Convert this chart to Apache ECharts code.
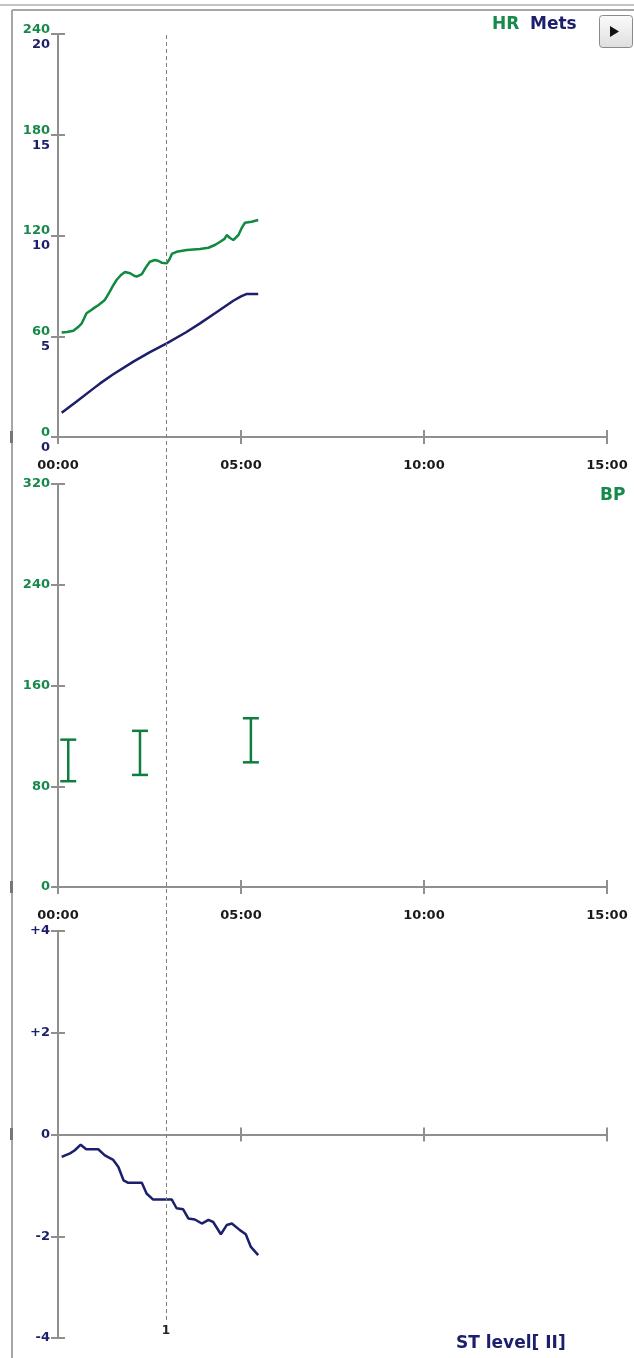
<!DOCTYPE html>
<html>
<head>
<meta charset="utf-8">
<script src="https://cdn.jsdelivr.net/npm/echarts@6/dist/echarts.min.js"></script>
<style>
html, body { margin: 0; padding: 0; background: #fff; }
#main { width: 634px; height: 1358px; }
</style>
</head>
<body>
<div id="main"></div>
<script>
// time in minutes
var hrTime = [0.10, 0.25, 0.42, 0.55, 0.65, 0.78, 0.90, 0.97, 1.10, 1.28, 1.40, 1.50, 1.60, 1.72, 1.83, 1.97, 2.08, 2.15, 2.29, 2.40, 2.51, 2.65, 2.75, 2.83, 2.97, 3.05, 3.11, 3.24, 3.52, 3.88, 4.11, 4.30, 4.43, 4.55, 4.61, 4.70, 4.79, 4.93, 5.02, 5.11, 5.29, 5.47];
var hrValue = [62.3, 62.5, 63.3, 65.5, 67.7, 73.7, 75.5, 76.6, 78.5, 81.6, 86, 90, 93.5, 96.5, 98.3, 97.5, 96, 95.5, 97, 101, 104.4, 105.4, 104.8, 103.8, 103.4, 106, 109, 110.3, 111.4, 112, 112.7, 114.5, 116.3, 118, 120.3, 118.5, 117.3, 120.3, 124.5, 127.6, 128.2, 129.2];
var metsTime = [0.10, 0.50, 1.00, 1.15, 1.50, 2.06, 2.50, 2.97, 3.50, 3.88, 4.30, 4.79, 5.00, 5.16, 5.47];
var metsValue = [1.2, 1.75, 2.45, 2.66, 3.1, 3.74, 4.2, 4.65, 5.2, 5.64, 6.15, 6.76, 6.98, 7.1, 7.1];
var bpTime = [0.28, 2.24, 5.27];
var bpSys = [117, 124, 134];
var bpDia = [84, 89, 99];
var stTime = [0.10, 0.33, 0.46, 0.62, 0.77, 1.10, 1.28, 1.51, 1.65, 1.79, 1.92, 2.29, 2.42, 2.60, 3.11, 3.24, 3.42, 3.56, 3.74, 3.93, 4.11, 4.24, 4.45, 4.61, 4.75, 4.97, 5.13, 5.27, 5.47];
var stValue = [-0.44, -0.37, -0.31, -0.2, -0.29, -0.29, -0.41, -0.5, -0.64, -0.9, -0.95, -0.95, -1.16, -1.28, -1.28, -1.45, -1.47, -1.65, -1.67, -1.75, -1.68, -1.72, -1.96, -1.78, -1.75, -1.88, -1.96, -2.21, -2.37];
var markerTime = 2.95;
var markerLabel = '1';
var xTicks = { min: 0, max: 15, interval: 5 };

var green = '#17894a';
var navy = '#1c1f6b';
var axisColor = '#8f8f8f';
var font = 'DejaVu Sans';

function pairs(xs, ys) {
	var out = [];
	for(var i = 0; i < xs.length; i++) {
		out.push([xs[i], ys[i]]);
	}
	return out;
}

function timeLabel(v) {
	var m = Math.round(v);
	return (m < 10 ? '0' : '') + m + ':00';
}

// x axis pair per grid: outside ticks + inside ticks so they cross the line
function xAxisPair(grid, showLabel) {
	return [{
		type: 'value', gridIndex: grid, min: xTicks.min, max: xTicks.max, interval: xTicks.interval,
		axisLine: { show: true, lineStyle: { color: axisColor, width: 2 } },
		axisTick: { show: true, length: 7, lineStyle: { color: axisColor, width: 2 } },
		axisLabel: { show: showLabel, margin: 22, formatter: timeLabel, color: '#1a1a1a', fontFamily: font, fontWeight: 'bold', fontSize: 13 },
		splitLine: { show: false }
	}, {
		type: 'value', gridIndex: grid, min: xTicks.min, max: xTicks.max, interval: xTicks.interval, position: 'bottom',
		axisLine: { show: false },
		axisTick: { show: true, inside: true, length: 7, lineStyle: { color: axisColor, width: 2 } },
		axisLabel: { show: false },
		splitLine: { show: false }
	}];
}

function yAxisBase(grid, min, max, interval) {
	return {
		type: 'value', gridIndex: grid, min: min, max: max, interval: interval, position: 'left',
		axisLine: { show: true, lineStyle: { color: axisColor, width: 2 } },
		axisTick: { show: true, length: 7, lineStyle: { color: axisColor, width: 2 } },
		splitLine: { show: false }
	};
}

var xAxes = [].concat(xAxisPair(0, true), xAxisPair(1, true), xAxisPair(2, false));
xAxes.push({ type: 'value', gridIndex: 3, min: xTicks.min, max: xTicks.max, show: false });

var yHR = yAxisBase(0, 0, 240, 60);
yHR.axisLabel = { margin: 8, verticalAlign: 'bottom', color: green, fontFamily: font, fontWeight: 'bold', fontSize: 13, padding: [0, 0, -2, 0] };
var yMets = yAxisBase(0, 0, 20, 5);
yMets.axisTick.inside = true;
yMets.axisLabel = { margin: 8, verticalAlign: 'top', color: navy, fontFamily: font, fontWeight: 'bold', fontSize: 13, padding: [4, 0, 0, 0] };
var yBP = yAxisBase(1, 0, 320, 80);
yBP.axisLabel = { margin: 8, color: green, fontFamily: font, fontWeight: 'bold', fontSize: 13 };
var yBPin = yAxisBase(1, 0, 320, 80);
yBPin.axisLine.show = false;
yBPin.axisTick.inside = true;
yBPin.axisLabel = { show: false };
var yST = yAxisBase(2, -4, 4, 2);
yST.axisLabel = { margin: 8, color: navy, fontFamily: font, fontWeight: 'bold', fontSize: 13,
	formatter: function(v) { return v > 0 ? '+' + v : '' + v; } };
var ySTin = yAxisBase(2, -4, 4, 2);
ySTin.axisLine.show = false;
ySTin.axisTick.inside = true;
ySTin.axisLabel = { show: false };
var yAxes = [yHR, yMets, yBP, yBPin, yST, ySTin, { type: 'value', gridIndex: 3, min: 0, max: 1, show: false }];

// I-beam marks for blood pressure
function renderBP(params, api) {
	var top = api.coord([api.value(0), api.value(1)]);
	var bot = api.coord([api.value(0), api.value(2)]);
	var half = 8;
	var style = { stroke: '#0e7d3e', lineWidth: 2.5 };
	return {
		type: 'group',
		children: [
			{ type: 'line', shape: { x1: top[0], y1: top[1], x2: bot[0], y2: bot[1] }, style: style },
			{ type: 'line', shape: { x1: top[0] - half, y1: top[1], x2: top[0] + half, y2: top[1] }, style: style },
			{ type: 'line', shape: { x1: bot[0] - half, y1: bot[1], x2: bot[0] + half, y2: bot[1] }, style: style }
		]
	};
}

var bpData = [];
for(var i = 0; i < bpTime.length; i++) {
	bpData.push([bpTime[i], bpSys[i], bpDia[i]]);
}

var myChart = echarts.init(document.getElementById('main'));
var option = {
	backgroundColor: '#fff',
	animation: false,
	grid: [
		{ left: 58, width: 549, top: 34, height: 403 },
		{ left: 58, width: 549, top: 484, height: 403 },
		{ left: 58, width: 549, top: 931, height: 407 },
		{ left: 58, width: 549, top: 34, height: 1286 }
	],
	xAxis: xAxes,
	yAxis: yAxes,
	graphic: [
		{ type: 'line', shape: { x1: 0, y1: 5, x2: 634, y2: 5 }, style: { stroke: '#c4c4c4', lineWidth: 2 } },
		{ type: 'line', shape: { x1: 12, y1: 10, x2: 634, y2: 10 }, style: { stroke: '#a6a6a6', lineWidth: 2 } },
		{ type: 'line', shape: { x1: 12, y1: 10, x2: 12, y2: 1358 }, style: { stroke: '#a6a6a6', lineWidth: 2 } },
		{ type: 'rect', shape: { x: 10, y: 431, width: 3, height: 12 }, style: { fill: '#777' } },
		{ type: 'rect', shape: { x: 10, y: 881, width: 3, height: 12 }, style: { fill: '#777' } },
		{ type: 'rect', shape: { x: 10, y: 1128, width: 3, height: 12 }, style: { fill: '#777' } },
		{ type: 'rect', shape: { x: 599.5, y: 15.5, width: 33, height: 32, r: 3 },
			style: { fill: new echarts.graphic.LinearGradient(0, 0, 0, 1, [{ offset: 0, color: '#fbfbfb' }, { offset: 1, color: '#dedede' }]), stroke: '#8a8a8a', lineWidth: 1 } },
		{ type: 'polygon', shape: { points: [[610, 26], [619, 31.5], [610, 37]] }, style: { fill: '#111' } },
		{ type: 'text', left: 492, top: 16, style: { text: 'HR', fill: green, font: 'bold 17px "DejaVu Sans"' } },
		{ type: 'text', left: 530, top: 16, style: { text: 'Mets', fill: navy, font: 'bold 17px "DejaVu Sans"' } },
		{ type: 'text', left: 600, top: 487, style: { text: 'BP', fill: green, font: 'bold 17px "DejaVu Sans"' } },
		{ type: 'text', left: 456, top: 1335, style: { text: 'ST level[ II]', fill: navy, font: 'bold 17px "DejaVu Sans"' } }
	],
	series: [{
		name: 'marker', type: 'line', xAxisIndex: 6, yAxisIndex: 6, data: [[markerTime, 0.5]],
		symbol: 'none', lineStyle: { width: 0 }, silent: true, z: 1,
		markLine: {
			silent: true, symbol: ['none', 'none'],
			lineStyle: { color: '#808080', width: 1, type: [4, 3] },
			label: { show: true, position: 'start', formatter: markerLabel, distance: 5, color: '#222', fontFamily: font, fontWeight: 'bold', fontSize: 12 },
			data: [{ xAxis: markerTime }]
		}
	}, {
		name: 'HR', type: 'line', xAxisIndex: 0, yAxisIndex: 0, data: pairs(hrTime, hrValue),
		showSymbol: false, lineStyle: { color: '#0f8a3e', width: 2.5 }, z: 3
	}, {
		name: 'Mets', type: 'line', xAxisIndex: 0, yAxisIndex: 1, data: pairs(metsTime, metsValue),
		showSymbol: false, lineStyle: { color: navy, width: 2.5 }, z: 3
	}, {
		name: 'BP', type: 'custom', xAxisIndex: 2, yAxisIndex: 2, data: bpData,
		renderItem: renderBP, z: 3
	}, {
		name: 'ST', type: 'line', xAxisIndex: 4, yAxisIndex: 4, data: pairs(stTime, stValue),
		showSymbol: false, lineStyle: { color: navy, width: 2.5 }, z: 3
	}]
};
myChart.setOption(option);
</script>
</body>
</html>
